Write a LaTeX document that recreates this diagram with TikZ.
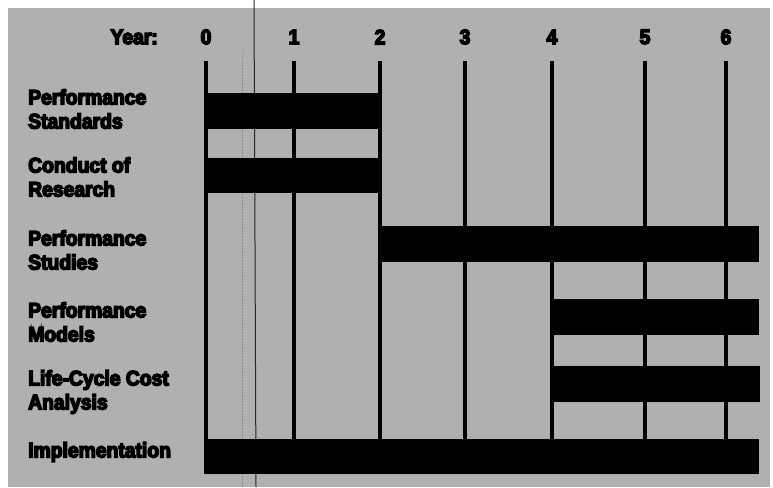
\documentclass[tikz,border=0pt]{standalone}
\usepackage{fontspec}
\newfontfamily\heavy{Liberation Sans Bold}[FakeBold=7, FakeStretch=0.92]
\definecolor{halftone}{gray}{0.69}
\begin{document}
\begin{tikzpicture}[x=1pt,y=-1pt,
  lab/.style={font=\heavy\fontsize{21}{24}\selectfont, align=left, anchor=west, inner sep=0pt, text=black},
  yr/.style={font=\heavy\fontsize{21}{24}\selectfont, inner sep=0pt, text=black},
  bar/.style={fill=black, draw=none},
  grid/.style={line width=3.2pt, black},
  scanline/.style={line width=1pt, black!85},
  faintline/.style={line width=0.8pt, black!45, dash pattern=on 1.5pt off 1.5pt}]
\useasboundingbox (0,0) rectangle (773,487);
\fill[halftone] (8,8) rectangle (770,487);
% year positions
\foreach \n/\x in {0/206,1/294,2/380,3/465,4/552,5/645,6/726}{
  \coordinate (t\n) at (\x,61);
  \coordinate (b\n) at (\x,440);
  \node[yr] (y\n) at (\x,37) {\n};
  \draw[grid] (t\n) -- (b\n);
}
\node[yr, anchor=east] (year) at (158,37) {Year:};
\coordinate (fainttop) at (242,50);
\coordinate (faintbot) at (242,487);
\draw[faintline] (fainttop) -- (faintbot);
\coordinate (scantop) at (254,0);
\coordinate (scanbot) at (256,487);
\draw[scanline] (scantop) -- (scanbot);
% bars
\fill[bar] (206,93) rectangle (380,129) coordinate (barA);
\fill[bar] (206,158) rectangle (380,193) coordinate (barB);
\fill[bar] (378,226) rectangle (759,262) coordinate (barC);
\fill[bar] (552,299) rectangle (759,335) coordinate (barD);
\fill[bar] (552,366) rectangle (760,402) coordinate (barE);
\fill[bar] (204,439) rectangle (759,474) coordinate (barF);
% labels
\node[lab] (lA) at (28,109) {Performance\\Standards};
\node[lab] (lB) at (28,177) {Conduct of\\Research};
\node[lab] (lC) at (28,250) {Performance\\Studies};
\node[lab] (lD) at (28,322) {Performance\\Models};
\node[lab] (lE) at (28,392) {Life-Cycle Cost\\Analysis};
\node[lab] (lF) at (28,452) {Implementation};
\end{tikzpicture}
\end{document}
